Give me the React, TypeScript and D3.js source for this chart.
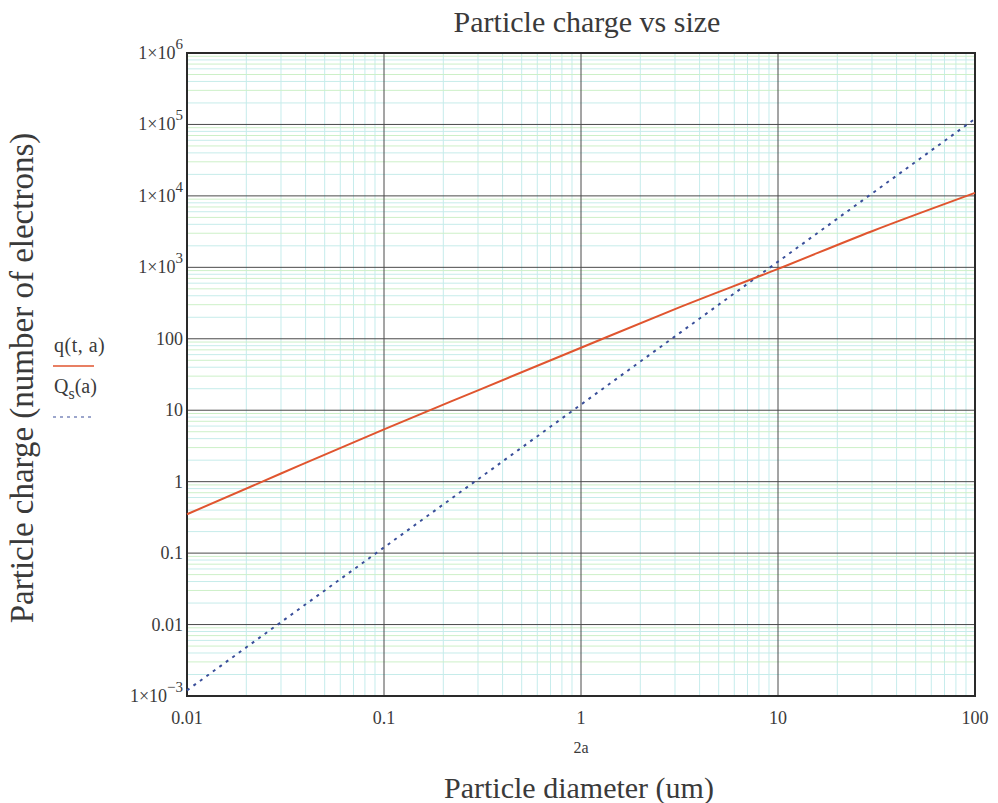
import React from "react";
import * as d3 from "d3";

const diameters = [0.01, 0.03, 0.1, 0.3, 1, 3, 10, 30, 100];
const chargeQ = [0.35, 1.3, 5.4, 19, 75, 260, 950, 3200, 11000];
const chargeQs = [0.0012, 0.0108, 0.12, 1.08, 12, 108, 1200, 10800, 120000];
const xTicks = [0.01, 0.1, 1, 10, 100];
const xTickLabels = ["0.01", "0.1", "1", "10", "100"];
const yTicks = [1e-3, 0.01, 0.1, 1, 10, 100, 1e3, 1e4, 1e5, 1e6];
const yTickLabels = ["1×10|−3", "0.01", "0.1", "1", "10", "100", "1×10|3", "1×10|4", "1×10|5", "1×10|6"];

const W = 998, H = 803;
const L = 187, R = 975, T = 53, B = 696;

export default function App() {
  const x = d3.scaleLog().domain([0.01, 100]).range([L, R]);
  const y = d3.scaleLog().domain([1e-3, 1e6]).range([B, T]);
  const minorX: number[] = [];
  for (let e = -2; e < 2; e++) for (let k = 2; k <= 9; k++) minorX.push(k * Math.pow(10, e));
  const minorY: number[] = [];
  for (let e = -3; e < 6; e++) for (let k = 2; k <= 9; k++) minorY.push(k * Math.pow(10, e));
  const line = d3.line<[number, number]>().x(d => x(d[0])).y(d => y(d[1])).curve(d3.curveMonotoneX);
  const qPts = diameters.map((d, i) => [d, chargeQ[i]] as [number, number]);
  const sPts = diameters.map((d, i) => [d, chargeQs[i]] as [number, number]);
  const serif = "'Liberation Serif', 'Times New Roman', serif";
  const tc = "#3a3a3a";
  return (
    <svg width={W} height={H} style={{ position: "absolute", left: 0, top: 0, background: "#fff", fontFamily: serif }}>
      <rect x={0} y={0} width={W} height={H} fill="#fff" />
      {minorX.map((v, i) => (
        <line key={"mx" + i} x1={x(v)} x2={x(v)} y1={T} y2={B} stroke="#c6ecec" strokeWidth={1} />
      ))}
      {minorY.map((v, i) => (
        <line key={"my" + i} x1={L} x2={R} y1={y(v)} y2={y(v)} stroke={i % 2 ? "#cdf0c8" : "#c6ecea"} strokeWidth={1} />
      ))}
      {xTicks.map((v, i) => (
        <line key={"Mx" + i} x1={x(v)} x2={x(v)} y1={T} y2={B} stroke="#4a4a4a" strokeWidth={1} />
      ))}
      {yTicks.map((v, i) => (
        <line key={"My" + i} x1={L} x2={R} y1={y(v)} y2={y(v)} stroke="#4a4a4a" strokeWidth={1} />
      ))}
      <rect x={L} y={T} width={R - L} height={B - T} fill="none" stroke="#2a2a2a" strokeWidth={2} />
      <path d={line(sPts) || ""} fill="none" stroke="#3a4f9a" strokeWidth={2} strokeDasharray="3,5" />
      <path d={line(qPts) || ""} fill="none" stroke="#e0552f" strokeWidth={2} />
      {xTicks.map((v, i) => (
        <text key={"xt" + i} x={x(v)} y={724} textAnchor="middle" fontSize={18} fill={tc}>{xTickLabels[i]}</text>
      ))}
      {yTicks.map((v, i) => {
        const parts = yTickLabels[i].split("|");
        return (
          <text key={"yt" + i} x={183} y={y(v) + 6} textAnchor="end" fontSize={18} fill={tc}>
            {parts[0]}
            {parts.length > 1 && <tspan dy={-10} fontSize={15}>{parts[1]}</tspan>}
          </text>
        );
      })}
      <text x={587} y={32} textAnchor="middle" fontSize={30} fill={tc}>Particle charge vs size</text>
      <text x={581} y={753} textAnchor="middle" fontSize={16} fill={tc}>2a</text>
      <text x={579} y={798} textAnchor="middle" fontSize={30} fill={tc}>Particle diameter (um)</text>
      <text transform="translate(33,378) rotate(-90)" textAnchor="middle" fontSize={33} fill={tc}>Particle charge (number of electrons)</text>
      <text x={54} y={352} fontSize={20} fill={tc} letterSpacing={0.5}>q(t, a)</text>
      <line x1={53} x2={94} y1={366} y2={366} stroke="#e0552f" strokeWidth={1.5} />
      <text x={54} y={393} fontSize={20} fill={tc}>Q<tspan dy={6} fontSize={16}>s</tspan><tspan dy={-6}>(a)</tspan></text>
      <line x1={53} x2={94} y1={417} y2={417} stroke="#3a4f9a" strokeWidth={1.2} strokeDasharray="3,4" />
    </svg>
  );
}
